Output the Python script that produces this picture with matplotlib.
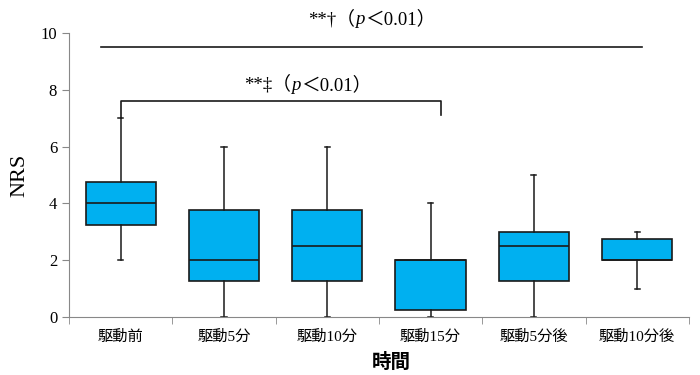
import matplotlib
matplotlib.use("Agg")
import matplotlib.pyplot as plt
import matplotlib.transforms as mtransforms
import numpy as np

plt.rcParams['font.family'] = ['Liberation Serif', 'Noto Sans CJK JP']

# data
labels = ["駆動前", "駆動5分", "駆動10分", "駆動15分", "駆動5分後", "駆動10分後"]
whislo = [2, 0, 0, 0, 0, 1]
q1 = [3.25, 1.25, 1.25, 0.25, 1.25, 2]
med = [4, 2, 2.5, 2, 2.5, 2]
q3 = [4.75, 3.75, 3.75, 2, 3, 2.75]
whishi = [7, 6, 6, 4, 5, 3]

stats = []
for i in range(len(labels)):
    stats.append(dict(whislo=whislo[i], q1=q1[i], med=med[i], q3=q3[i],
                      whishi=whishi[i], fliers=[]))

fig = plt.figure(figsize=(7, 3.75), dpi=100)
ax = fig.add_axes([0.0986, 0.1547, 0.8854, 0.7573])

pos = np.arange(len(labels))
ax.bxp(stats, positions=pos, widths=0.68, capwidths=0.05, patch_artist=True,
       showfliers=False,
       boxprops=dict(facecolor="#00B0F0", edgecolor="#1a1a1a", linewidth=1.2),
       medianprops=dict(color="#1a1a1a", linewidth=1.2),
       whiskerprops=dict(color="#1a1a1a", linewidth=1.1),
       capprops=dict(color="#1a1a1a", linewidth=1.1))

ax.set_xlim(-0.5, len(labels) - 0.5)
ax.set_ylim(0, 10)
ax.set_yticks([0, 2, 4, 6, 8, 10])
ax.set_xticks(pos)
ax.set_xticklabels(labels, fontsize=11)
ax.set_xticks(np.arange(len(labels) + 1) - 0.5, minor=True)
ax.tick_params(axis="x", which="major", length=0, pad=9)
ax.tick_params(axis="x", which="minor", length=5, color="#888888")
ax.tick_params(axis="y", length=5, color="#888888", labelsize=12)

for s in ["top", "right"]:
    ax.spines[s].set_visible(False)
for s in ["left", "bottom"]:
    ax.spines[s].set_color("#888888")

ax.set_ylabel("NRS", fontsize=16, labelpad=8)
ax.set_xlabel("時間", fontsize=14, fontweight="bold")
ax.xaxis.set_label_coords(0.52, -0.125)


def sig_text(x, y, parts, size=13.5):
    # lay the pieces side by side on one baseline, centred on x
    renderer = fig.canvas.get_renderer()
    texts = []
    widths = []
    for s, style in parts:
        t = ax.text(0, 0, s, style=style, fontsize=size, ha="left",
                    va="baseline", transform=mtransforms.IdentityTransform())
        widths.append(t.get_window_extent(renderer).width)
        texts.append(t)
    bx, by = ax.transData.transform((x, y))
    left = bx - sum(widths) / 2
    for t, w in zip(texts, widths):
        t.set_position((left, by))
        left += w


# significance lines
ax.plot([-0.19, 5.05], [9.5, 9.5], color="#1a1a1a", lw=1.2, clip_on=False)
sig_text(2.43, 10.3, [("**†（", "normal"), ("p", "italic"), ("＜0.01）", "normal")])
ax.plot([0, 0, 3.1, 3.1], [7.0, 7.62, 7.62, 7.1], color="#1a1a1a", lw=1.2)
sig_text(1.81, 8.0, [("**‡（", "normal"), ("p", "italic"), ("＜0.01）", "normal")])

fig.savefig("out.png", dpi=100)
